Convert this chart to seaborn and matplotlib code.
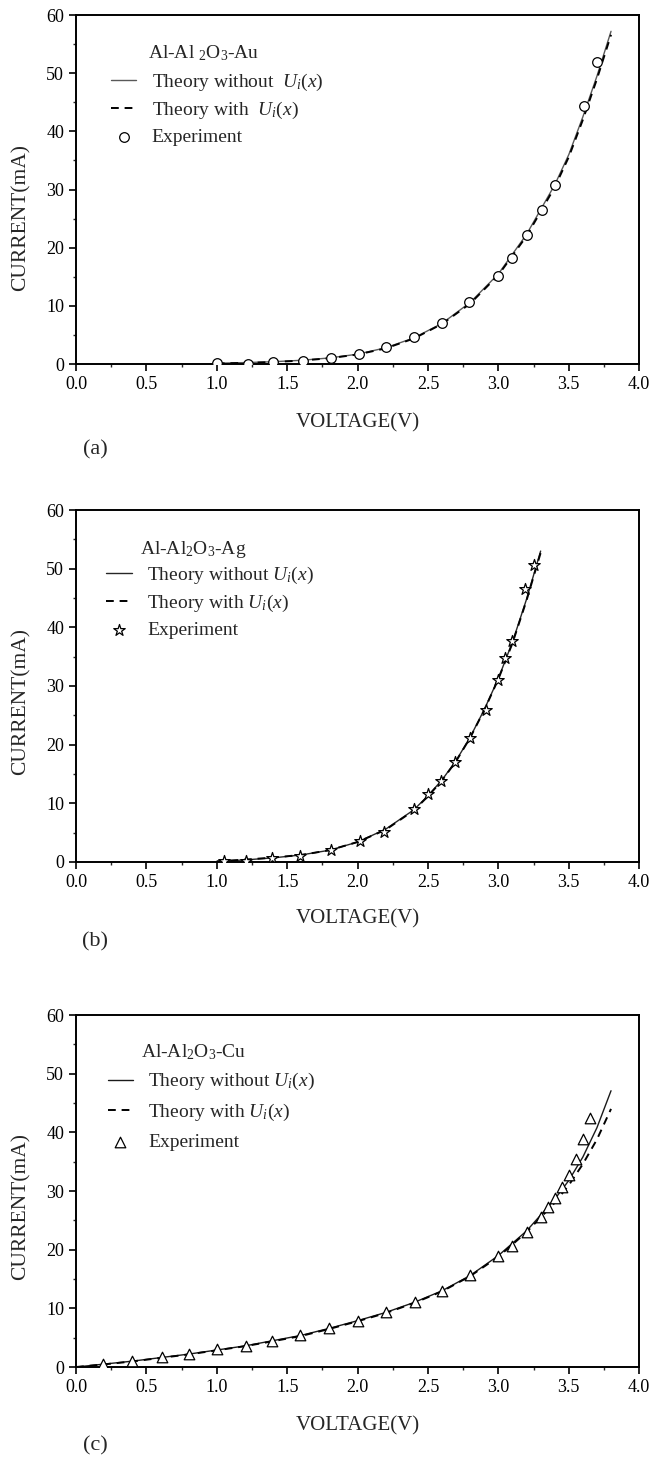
import numpy as np
import pandas as pd
import matplotlib
matplotlib.use('Agg')
import matplotlib.pyplot as plt
import seaborn as sns
from matplotlib.ticker import MultipleLocator

sns.set_style('ticks')
plt.rcParams['font.family'] = ['Liberation Serif', 'DejaVu Serif']
plt.rcParams['mathtext.fontset'] = 'custom'
plt.rcParams['mathtext.rm'] = 'Liberation Serif'
plt.rcParams['mathtext.it'] = 'Liberation Serif:italic'

# ---- (a) Al-Al2O3-Au ----
au_theory_v = [1.0, 1.2, 1.4, 1.6, 1.8, 2.0, 2.2, 2.4, 2.6, 2.8, 3.0, 3.2, 3.4, 3.5, 3.6, 3.7, 3.8]
au_theory_i = [0.15, 0.25, 0.4, 0.65, 1.05, 1.7, 2.8, 4.5, 7.0, 10.6, 15.5, 22.3, 30.8, 36.0, 42.5, 49.5, 57.2]
au_theory_ui = [0.1, 0.2, 0.35, 0.6, 1.0, 1.65, 2.7, 4.4, 6.9, 10.4, 15.3, 22.0, 30.4, 35.6, 42.0, 49.0, 56.6]
au_exp_v = [1.0, 1.22, 1.4, 1.61, 1.81, 2.01, 2.2, 2.4, 2.6, 2.79, 3.0, 3.1, 3.2, 3.31, 3.4, 3.61, 3.7]
au_exp_i = [0.1, 0.0, 0.3, 0.6, 1.0, 1.8, 2.9, 4.7, 7.1, 10.7, 15.2, 18.2, 22.2, 26.5, 30.7, 44.4, 52.0]

# ---- (b) Al-Al2O3-Ag ----
ag_theory_v = [1.0, 1.2, 1.4, 1.6, 1.8, 2.0, 2.2, 2.4, 2.5, 2.6, 2.7, 2.8, 2.9, 3.0, 3.1, 3.2, 3.3]
ag_theory_i = [0.1, 0.35, 0.7, 1.2, 2.0, 3.4, 5.6, 8.9, 11.3, 14.0, 17.3, 21.3, 26.0, 31.3, 37.5, 44.8, 53.0]
ag_theory_ui = [0.1, 0.4, 0.75, 1.2, 2.0, 3.4, 5.5, 8.8, 11.2, 13.9, 17.2, 21.2, 25.9, 31.2, 37.3, 44.6, 52.7]
ag_exp_v = [1.05, 1.21, 1.39, 1.59, 1.81, 2.02, 2.19, 2.4, 2.5, 2.59, 2.69, 2.8, 2.91, 3.0, 3.05, 3.1, 3.19, 3.25]
ag_exp_i = [0.2, 0.2, 0.6, 1.0, 2.1, 3.6, 5.1, 9.1, 11.6, 13.8, 17.1, 21.1, 25.9, 31.1, 34.8, 37.6, 46.5, 50.7]

# ---- (c) Al-Al2O3-Cu ----
cu_theory_v = [0.0, 0.2, 0.4, 0.6, 0.8, 1.0, 1.2, 1.4, 1.6, 1.8, 2.0, 2.2, 2.4, 2.6, 2.8, 3.0, 3.2, 3.4, 3.5, 3.6, 3.7, 3.8]
cu_theory_i = [0.0, 0.5, 1.0, 1.6, 2.2, 2.9, 3.6, 4.5, 5.4, 6.6, 7.9, 9.3, 11.0, 13.0, 15.6, 19.0, 23.2, 28.6, 31.8, 35.8, 40.8, 47.1]
cu_theory_ui = [0.0, 0.45, 0.95, 1.55, 2.15, 2.85, 3.55, 4.4, 5.3, 6.5, 7.8, 9.2, 10.9, 12.9, 15.5, 18.8, 23.0, 28.0, 31.0, 34.6, 38.8, 44.0]
cu_exp_v = [0.19, 0.4, 0.61, 0.8, 1.0, 1.21, 1.39, 1.59, 1.8, 2.0, 2.2, 2.41, 2.6, 2.8, 3.0, 3.1, 3.2, 3.3, 3.35, 3.4, 3.45, 3.5, 3.55, 3.6, 3.65]
cu_exp_i = [0.57, 1.1, 1.7, 2.3, 3.0, 3.6, 4.4, 5.5, 6.6, 7.9, 9.3, 11.0, 13.0, 15.7, 19.0, 20.7, 23.0, 25.6, 27.2, 28.8, 30.7, 32.8, 35.4, 38.9, 42.4]

W, H = 661, 1458
fig = plt.figure(figsize=(W / 100, H / 100), dpi=100)

panels = [
    dict(title='Al-Al $_2$O$_3$-Au', tv=au_theory_v, ti=au_theory_i, tu=au_theory_ui,
         ev=au_exp_v, ei=au_exp_i, marker='o', ms=48, solid='0.35',
         lab1='Theory without  $U_i(x)$', lab2='Theory with  $U_i(x)$',
         rect=(0.115, 0.7503, 0.852, 0.2394), tx=0.128, ty=0.877, leg=(0.062, 0.838),
         lsp=0.37, tag='(a)', tag_y=450, ylab_y=0.42, xlab_y=-0.14),
    dict(title='Al-Al$_2$O$_3$-Ag', tv=ag_theory_v, ti=ag_theory_i, tu=ag_theory_ui,
         ev=ag_exp_v, ei=ag_exp_i, marker='*', ms=75, solid='0.15',
         lab1='Theory without $U_i(x)$', lab2='Theory with $U_i(x)$',
         rect=(0.115, 0.4088, 0.852, 0.2414), tx=0.114, ty=0.875, leg=(0.054, 0.845),
         lsp=0.37, tag='(b)', tag_y=942, ylab_y=0.457, xlab_y=-0.134),
    dict(title='Al-Al$_2$O$_3$-Cu', tv=cu_theory_v, ti=cu_theory_i, tu=cu_theory_ui,
         ev=cu_exp_v, ei=cu_exp_i, marker='^', ms=58, solid='0.1',
         lab1='Theory without $U_i(x)$', lab2='Theory with $U_i(x)$',
         rect=(0.115, 0.0624, 0.852, 0.2414), tx=0.115, ty=0.881, leg=(0.056, 0.84),
         lsp=0.5, tag='(c)', tag_y=1446, ylab_y=0.457, xlab_y=-0.139),
]

for p in panels:
    ax = fig.add_axes(p['rect'])
    sns.lineplot(x=p['tv'], y=p['ti'], ax=ax, color=p['solid'], linewidth=1.0,
                 label=p['lab1'], estimator=None, sort=False)
    sns.lineplot(x=p['tv'], y=p['tu'], ax=ax, color='black', linewidth=1.4,
                 linestyle=(0, (4, 3)), label=p['lab2'], estimator=None, sort=False)
    sns.scatterplot(x=p['ev'], y=p['ei'], ax=ax, marker=p['marker'], s=p['ms'],
                    facecolor='white', edgecolor='black', linewidth=0.9,
                    label='Experiment', zorder=5)

    ax.set_xlim(0, 4)
    ax.set_ylim(0, 60)
    ax.xaxis.set_major_locator(MultipleLocator(0.5))
    ax.xaxis.set_minor_locator(MultipleLocator(0.25))
    ax.yaxis.set_major_locator(MultipleLocator(10))
    ax.yaxis.set_minor_locator(MultipleLocator(5))
    ax.xaxis.set_major_formatter(matplotlib.ticker.FormatStrFormatter('%.1f'))
    ax.tick_params(which='major', direction='out', length=5, width=1.2, labelsize=13,
                   colors='black', pad=3.5)
    ax.tick_params(which='minor', direction='out', length=2.5, width=1.0)
    for s in ax.spines.values():
        s.set_visible(True)
        s.set_linewidth(1.4)
        s.set_color('black')

    ax.set_xlabel('VOLTAGE(V)', fontsize=15)
    ax.set_ylabel('CURRENT(mA)', fontsize=15.5)
    ax.xaxis.set_label_coords(0.5, p['xlab_y'])
    ax.yaxis.set_label_coords(-0.08, p['ylab_y'])

    ax.text(p['tx'], p['ty'], p['title'], transform=ax.transAxes, fontsize=14,
            ha='left', va='baseline')
    ax.legend(loc='upper left', bbox_to_anchor=p['leg'], frameon=False, fontsize=14,
              borderpad=0, handlelength=1.3, handletextpad=0.8, labelspacing=p['lsp'],
              borderaxespad=0)

    fig.text(95 / W, 1 - p['tag_y'] / H, p['tag'], fontsize=16, ha='center', va='center')

fig.savefig('out.png', dpi=100)
